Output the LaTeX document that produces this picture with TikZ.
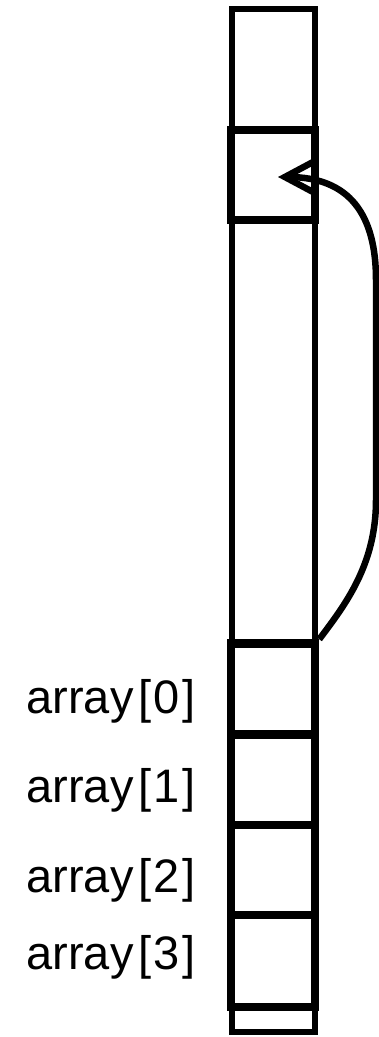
\documentclass[tikz,border=0pt]{standalone}
\usepackage{fontspec}
\setmainfont{Liberation Sans}
\usetikzlibrary{arrows.meta,calc}
\newcommand{\arr}[1]{array\kern5pt[\kern2pt#1\kern3pt]}
\begin{document}
\begin{tikzpicture}[x=1pt,y=-1pt,
  thin cell/.style={draw=black, line width=5.5pt, inner sep=0pt, minimum width=83pt},
  thick cell/.style={draw=black, line width=8.5pt, inner sep=0pt, minimum width=84pt, minimum height=90pt},
  lbl/.style={anchor=east, inner sep=0pt, font=\fontsize{47}{56}\selectfont},
  link/.style={line width=6.5pt, -{Straight Barb[length=30pt,width=32pt,line width=6.5pt]}}]
\useasboundingbox (0,0) rectangle (378,1037);
\node[thin cell, minimum height=1023pt] (col) at (273.5,520.5) {};
\node[thick cell] (p) at (273,175) {};
\node[thick cell, minimum height=91pt] (c0) at (273,689) {};
\node[thick cell, minimum height=91pt] (c1) at (273,779.5) {};
\node[thick cell] (c2) at (273,870) {};
\node[thick cell, minimum height=92pt] (c3) at (273,961) {};
\node[lbl] (l0) at (196,701) {\arr{0}};
\node[lbl] (l1) at (196,790) {\arr{1}};
\node[lbl] (l2) at (196,880) {\arr{2}};
\node[lbl] (l3) at (196,957) {\arr{3}};
\coordinate (tip) at ($(p.center)+(5,2)$);
\draw[link] (c0.north east) .. controls (345,605) and (376,565) .. (376,500)
  -- (376,280) .. controls (376,215) and (350,177) .. (tip);
\end{tikzpicture}
\end{document}
